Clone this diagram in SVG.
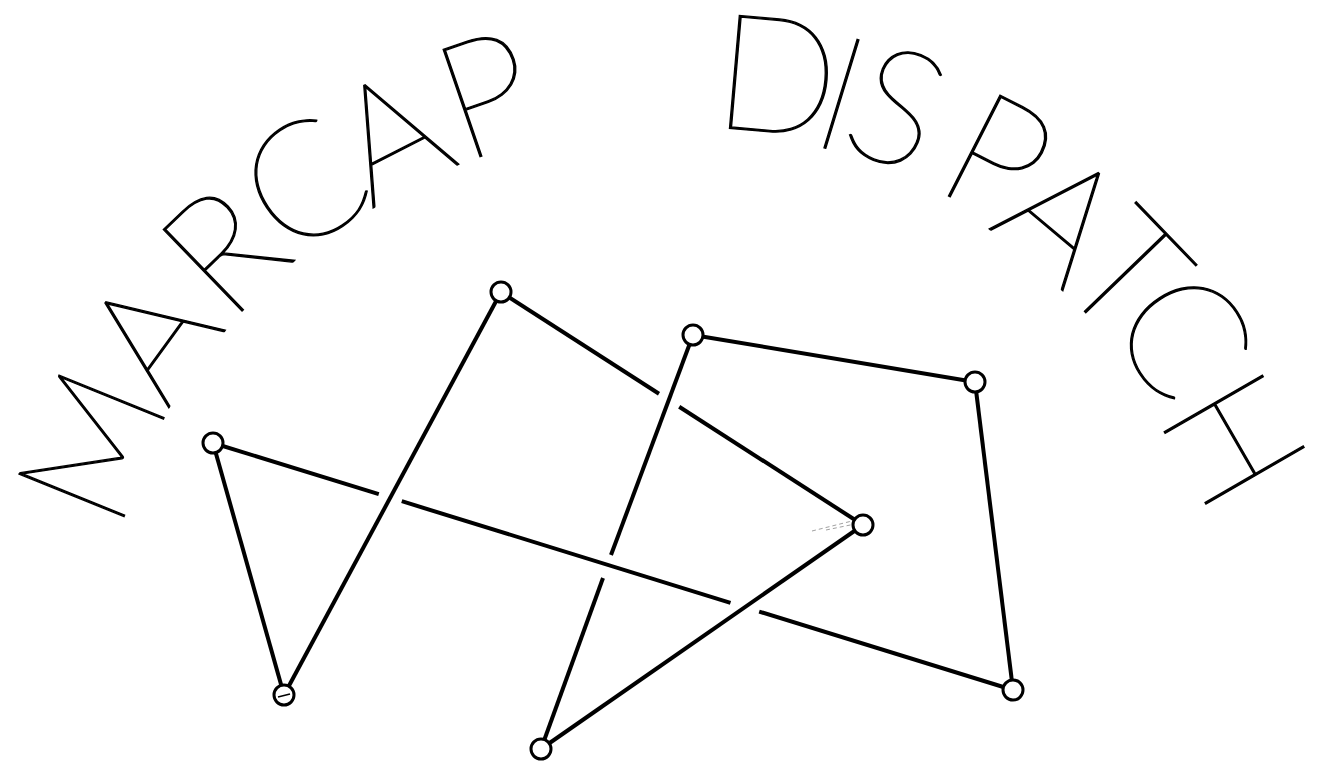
<svg xmlns="http://www.w3.org/2000/svg" width="1320" height="765" viewBox="0 0 1320 765">
<style>
.t{font-family:Lato,Roboto,Inter,"DejaVu Sans",sans-serif;font-weight:100;font-size:162px;fill:#000;stroke:#000;stroke-width:1.3;text-anchor:middle}
.e{stroke:#000;stroke-width:4;fill:none}
.n{fill:#fff;stroke:#000;stroke-width:3}
.f{stroke:#888;stroke-width:0.8;stroke-dasharray:4 3}
</style>
<rect width="1320" height="765" fill="#fff"/>
<g id="title">
<text class="t" transform="translate(144,467) rotate(-68)">M</text>
<text class="t" transform="translate(197,369) rotate(-54)">A</text>
<text class="t" transform="translate(263,291) rotate(-44)">R</text>
<text class="t" transform="translate(335,230) rotate(-34)">C</text>
<text class="t" transform="translate(416,186) rotate(-27)">A</text>
<text class="t" transform="translate(505,148) rotate(-19)">P</text>
<text class="t" transform="translate(772,132) rotate(5)">D</text>
<text class="t" transform="translate(825,148) rotate(17)">I</text>
<text class="t" transform="translate(876,160) rotate(22)">S</text>
<text class="t" transform="translate(972,208) rotate(27)">P</text>
<text class="t" transform="translate(1026,260) rotate(40)">A</text>
<text class="t" transform="translate(1085,312) rotate(46)">T</text>
<text class="t" transform="translate(1136,366) rotate(57)">C</text>
<text class="t" transform="translate(1185,468) rotate(60)">H</text>
</g>
<g id="connectors">
<line class="e" x1="213" y1="443" x2="284" y2="695"/>
<line class="e" x1="284" y1="695" x2="501" y2="292"/>
<line class="e" x1="501" y1="292" x2="659" y2="393.7"/>
<line class="e" x1="679.2" y1="406.7" x2="863" y2="525"/>
<line class="e" x1="863" y1="525" x2="541" y2="749"/>
<line class="e" x1="541" y1="749" x2="603" y2="578"/>
<line class="e" x1="611" y1="555" x2="693" y2="335"/>
<line class="e" x1="693" y1="335" x2="975" y2="382"/>
<line class="e" x1="975" y1="382" x2="1013" y2="690"/>
<line class="e" x1="213" y1="443" x2="378.8" y2="494.2"/>
<line class="e" x1="401.8" y1="501.2" x2="730.5" y2="602.8"/>
<line class="e" x1="759.2" y1="611.6" x2="1013" y2="690"/>
<line class="f" x1="812" y1="531" x2="860" y2="519"/>
<line class="f" x1="826" y1="530" x2="860" y2="523"/>
</g>
<g id="node-a"><circle class="n" cx="213" cy="443" r="10"/></g>
<g id="node-b"><circle class="n" cx="284" cy="695" r="10"/><line x1="278" y1="697" x2="290" y2="694" stroke="#000" stroke-width="1.5"/></g>
<g id="node-c"><circle class="n" cx="501" cy="292" r="10"/></g>
<g id="node-d"><circle class="n" cx="863" cy="525" r="10"/></g>
<g id="node-e"><circle class="n" cx="541" cy="749" r="10"/></g>
<g id="node-f"><circle class="n" cx="693" cy="335" r="10"/></g>
<g id="node-g"><circle class="n" cx="975" cy="382" r="10"/></g>
<g id="node-h"><circle class="n" cx="1013" cy="690" r="10"/></g>
</svg>
